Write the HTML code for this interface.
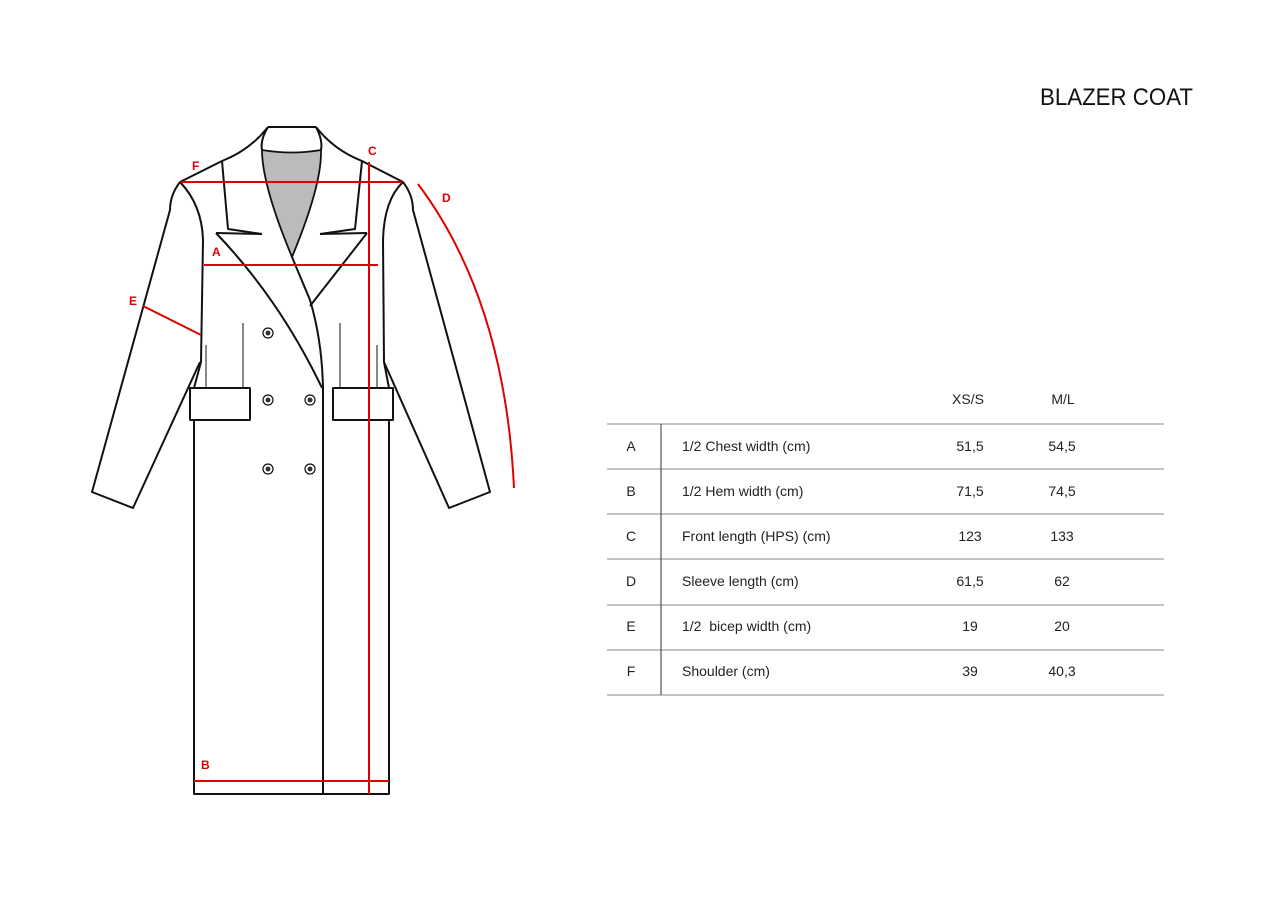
<!DOCTYPE html>
<html><head><meta charset="utf-8"><style>
html,body{margin:0;padding:0;background:#fff;}
svg{display:block;}
text{font-family:"Liberation Sans",sans-serif;}
</style></head><body>
<svg width="1280" height="915" viewBox="0 0 1280 915" xmlns="http://www.w3.org/2000/svg">
<rect width="1280" height="915" fill="#fff"/>
<text x="1040" y="105" font-size="24" textLength="153" lengthAdjust="spacingAndGlyphs" fill="#111">BLAZER COAT</text>

<g fill="none" stroke="#111" stroke-width="2" stroke-linejoin="round">
  <path d="M262,150 Q292,155 321,150 Q322,185 292,257 Q262,185 262,150 Z" fill="#bbb" stroke-width="1.8"/>
  <path d="M268,127 L316,127"/>
  <path d="M268,127 Q260,140 262,150"/>
  <path d="M316,127 Q323,140 321,150"/>
  <path d="M268,127 Q250,150 222,161 L180,182"/>
  <path d="M316,127 Q334,150 362,161 L403,182"/>
  <path d="M222,161 L228,229 L262,234"/>
  <path d="M362,161 L355,229 L320,234"/>
  <path d="M216,233 L262,234"/>
  <path d="M216,233 Q280,300 322,388"/>
  <path d="M367,233 L310,306"/>
  <path d="M367,233 L320,234"/>
  <path d="M292,257 L310,300 Q322,340 323,388 L323,794"/>
  <path d="M180,182 Q202,205 203,240 L201,362 L194,388 L194,794 L389,794 L389,388 L384,362 L383,240 Q384,200 403,182"/>
  <path d="M180,182 Q170,195 170,210 L92,492 L133,508 L200,362"/>
  <path d="M403,182 Q413,195 413,210 L490,492 L449,508 L384,362"/>
  <rect x="190" y="388" width="60" height="32" fill="#fff"/>
  <rect x="333" y="388" width="60" height="32" fill="#fff"/>
</g>
<g stroke="#111" stroke-width="1">
  <line x1="206" y1="345" x2="206" y2="388"/>
  <line x1="243" y1="323" x2="243" y2="388"/>
  <line x1="340" y1="323" x2="340" y2="388"/>
  <line x1="377" y1="345" x2="377" y2="388"/>
</g>
<g fill="#fff" stroke="#111" stroke-width="1.2">
  <circle cx="268" cy="333" r="5"/><circle cx="268" cy="400" r="5"/><circle cx="310" cy="400" r="5"/>
  <circle cx="268" cy="469" r="5"/><circle cx="310" cy="469" r="5"/>
</g>
<g fill="#333">
  <circle cx="268" cy="333" r="2.5"/><circle cx="268" cy="400" r="2.5"/><circle cx="310" cy="400" r="2.5"/>
  <circle cx="268" cy="469" r="2.5"/><circle cx="310" cy="469" r="2.5"/>
</g>
<g stroke="#e00000" stroke-width="2" fill="none">
  <line x1="181" y1="182" x2="402" y2="182"/>
  <line x1="204" y1="265" x2="378" y2="265"/>
  <line x1="369" y1="162" x2="369" y2="794"/>
  <line x1="194" y1="781" x2="389" y2="781"/>
  <line x1="143" y1="306" x2="201" y2="335"/>
  <path d="M418,184 Q505,300 514,488"/>
</g>
<g fill="#e00000" font-size="12" font-weight="bold">
  <text x="192" y="170">F</text>
  <text x="368" y="155">C</text>
  <text x="442" y="202">D</text>
  <text x="212" y="256">A</text>
  <text x="129" y="305">E</text>
  <text x="201" y="769">B</text>
</g>

<g stroke="#888" stroke-width="1">
  <line x1="607" y1="424" x2="1164" y2="424"/>
  <line x1="607" y1="469" x2="1164" y2="469"/>
  <line x1="607" y1="514" x2="1164" y2="514"/>
  <line x1="607" y1="559" x2="1164" y2="559"/>
  <line x1="607" y1="605" x2="1164" y2="605"/>
  <line x1="607" y1="650" x2="1164" y2="650"/>
  <line x1="607" y1="695" x2="1164" y2="695"/>
  <line x1="661" y1="424" x2="661" y2="695" stroke="#333"/>
</g>
<g font-size="14" fill="#222">
  <text x="968" y="404" text-anchor="middle">XS/S</text>
  <text x="1063" y="404" text-anchor="middle">M/L</text>
  <text x="631" y="451" text-anchor="middle">A</text><text x="682" y="451">1/2 Chest width (cm)</text><text x="970" y="451" text-anchor="middle">51,5</text><text x="1062" y="451" text-anchor="middle">54,5</text>
  <text x="631" y="496" text-anchor="middle">B</text><text x="682" y="496">1/2 Hem width (cm)</text><text x="970" y="496" text-anchor="middle">71,5</text><text x="1062" y="496" text-anchor="middle">74,5</text>
  <text x="631" y="541" text-anchor="middle">C</text><text x="682" y="541">Front length (HPS) (cm)</text><text x="970" y="541" text-anchor="middle">123</text><text x="1062" y="541" text-anchor="middle">133</text>
  <text x="631" y="586" text-anchor="middle">D</text><text x="682" y="586">Sleeve length (cm)</text><text x="970" y="586" text-anchor="middle">61,5</text><text x="1062" y="586" text-anchor="middle">62</text>
  <text x="631" y="631" text-anchor="middle">E</text><text x="682" y="631" xml:space="preserve">1/2  bicep width (cm)</text><text x="970" y="631" text-anchor="middle">19</text><text x="1062" y="631" text-anchor="middle">20</text>
  <text x="631" y="676" text-anchor="middle">F</text><text x="682" y="676">Shoulder (cm)</text><text x="970" y="676" text-anchor="middle">39</text><text x="1062" y="676" text-anchor="middle">40,3</text>
</g>
</svg>
</body></html>
